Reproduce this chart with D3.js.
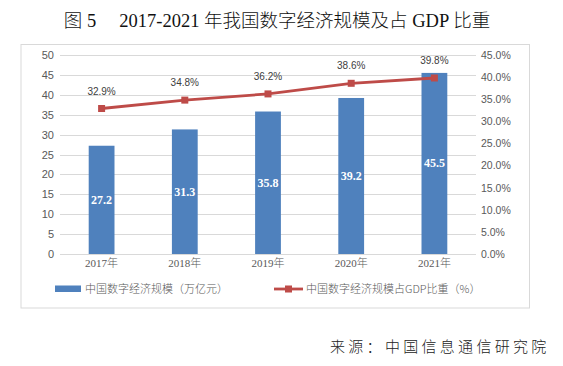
<!DOCTYPE html>
<html><head><meta charset="utf-8">
<script src="https://cdn.jsdelivr.net/npm/d3@7"></script>
<style>
html,body{margin:0;padding:0;background:#fff;}
svg{display:block;}
</style></head>
<body>
<svg id="chart" width="563" height="366"></svg>
<script>
const years = ["2017年","2018年","2019年","2020年","2021年"];
const scaleValues = [27.2, 31.3, 35.8, 39.2, 45.5];
const shareValues = [32.9, 34.8, 36.2, 38.6, 39.8];
const leftTicks = [0,5,10,15,20,25,30,35,40,45,50];
const rightTicks = [0,5,10,15,20,25,30,35,40,45];
const title = "图 5\u3000 2017-2021 年我国数字经济规模及占 GDP 比重";
const legendBar = "中国数字经济规模（万亿元）";
const legendLine = "中国数字经济规模占GDP比重（%）";
const source = "来源：中国信息通信研究院";

const svg = d3.select("#chart");
const sans = "'Liberation Sans','Noto Sans CJK SC',sans-serif";
const serif = "'Liberation Serif','Noto Sans CJK SC',serif";
const cjk = "'Noto Sans CJK SC',sans-serif";
const barColor = "#4F81BD", lineColor = "#BE4B48", gridColor = "#D9D9D9", textColor = "#595959";

const x = d3.scaleBand().domain(years).range([60, 476]).paddingInner(0.69).paddingOuter(0.345);
const yL = d3.scaleLinear().domain([0,50]).range([254,55]);
const yR = d3.scaleLinear().domain([0,45]).range([254,55]);

// title
svg.append("text").attr("x", 277).attr("y", 26.5).attr("text-anchor","middle")
  .style("font-family", serif).style("font-size","18.5px").style("font-weight","300")
  .attr("fill","#111").text(title);

// chart box
svg.append("rect").attr("x",21).attr("y",44.5).attr("width",508.5).attr("height",263.5)
  .attr("fill","#fff").attr("stroke",gridColor).attr("stroke-width",1);

// gridlines
svg.append("g").selectAll("line").data(leftTicks).join("line")
  .attr("x1",60).attr("x2",476)
  .attr("y1",d=>Math.round(yL(d))+0.5).attr("y2",d=>Math.round(yL(d))+0.5)
  .attr("stroke",gridColor).attr("stroke-width",1);

// left axis
const axL = d3.axisLeft(yL).tickValues(leftTicks).tickSize(0).tickPadding(0);
const gL = svg.append("g").attr("transform","translate(54,0)").call(axL);
gL.select(".domain").remove();
gL.selectAll("text").style("font-family",sans).style("font-size","11px").attr("fill",textColor);

// right axis
const axR = d3.axisRight(yR).tickValues(rightTicks).tickSize(0).tickPadding(0).tickFormat(d=>d.toFixed(1)+"%");
const gR = svg.append("g").attr("transform","translate(481,0)").call(axR);
gR.select(".domain").remove();
gR.selectAll("text").style("font-family",sans).style("font-size","10.5px").attr("fill",textColor);

// x axis labels
const axX = d3.axisBottom(x).tickSize(0).tickPadding(0);
const gX = svg.append("g").attr("transform","translate(0,259)").call(axX);
gX.select(".domain").remove();
gX.selectAll("text").style("font-family",serif).style("font-size","11px").style("font-weight","300").attr("fill",textColor);

// bars
svg.append("g").selectAll("rect").data(scaleValues).join("rect")
  .attr("x",(d,i)=>x(years[i])).attr("width",x.bandwidth())
  .attr("y",d=>yL(d)).attr("height",d=>yL(0)-yL(d)).attr("fill",barColor);

// bar labels
svg.append("g").selectAll("text").data(scaleValues).join("text")
  .attr("x",(d,i)=>x(years[i])+x.bandwidth()/2)
  .attr("y",d=>(yL(d)+yL(0))/2+4)
  .attr("text-anchor","middle").style("font-family",serif).style("font-size","12px")
  .style("font-weight","bold").attr("fill","#fff").text(d=>d.toFixed(1));

// line
const cx = (d,i)=>x(years[i])+x.bandwidth()/2;
const line = d3.line().x((d,i)=>cx(d,i)).y(d=>yR(d));
svg.append("path").datum(shareValues).attr("d",line).attr("fill","none")
  .attr("stroke",lineColor).attr("stroke-width",2.8).attr("stroke-linejoin","round");
svg.append("g").selectAll("rect").data(shareValues).join("rect")
  .attr("x",(d,i)=>cx(d,i)-3.5).attr("y",d=>yR(d)-3.5).attr("width",7).attr("height",7)
  .attr("fill",lineColor);

// line labels
svg.append("g").selectAll("text").data(shareValues).join("text")
  .attr("x",(d,i)=>cx(d,i)).attr("y",d=>yR(d)-14)
  .attr("text-anchor","middle").style("font-family",sans).style("font-size","10px")
  .attr("fill","#404040").text(d=>d.toFixed(1)+"%");

// legend
svg.append("rect").attr("x",55).attr("y",285.5).attr("width",26).attr("height",6.5).attr("fill",barColor);
svg.append("text").attr("x",85).attr("y",293).style("font-family",cjk).style("font-size","11px")
  .style("font-weight","300").attr("fill",textColor).text(legendBar);
svg.append("line").attr("x1",274).attr("x2",303).attr("y1",289).attr("y2",289)
  .attr("stroke",lineColor).attr("stroke-width",2.8);
svg.append("rect").attr("x",285).attr("y",285.5).attr("width",7).attr("height",7).attr("fill",lineColor);
svg.append("text").attr("x",306).attr("y",293).style("font-family",cjk).style("font-size","11px")
  .style("font-weight","300").attr("fill",textColor).text(legendLine);

// source
svg.append("text").attr("x",330).attr("y",352).style("font-family",cjk).style("font-size","15px")
  .style("font-weight","300").style("letter-spacing","3.3px").attr("fill","#222").text(source);
</script>
</body></html>
